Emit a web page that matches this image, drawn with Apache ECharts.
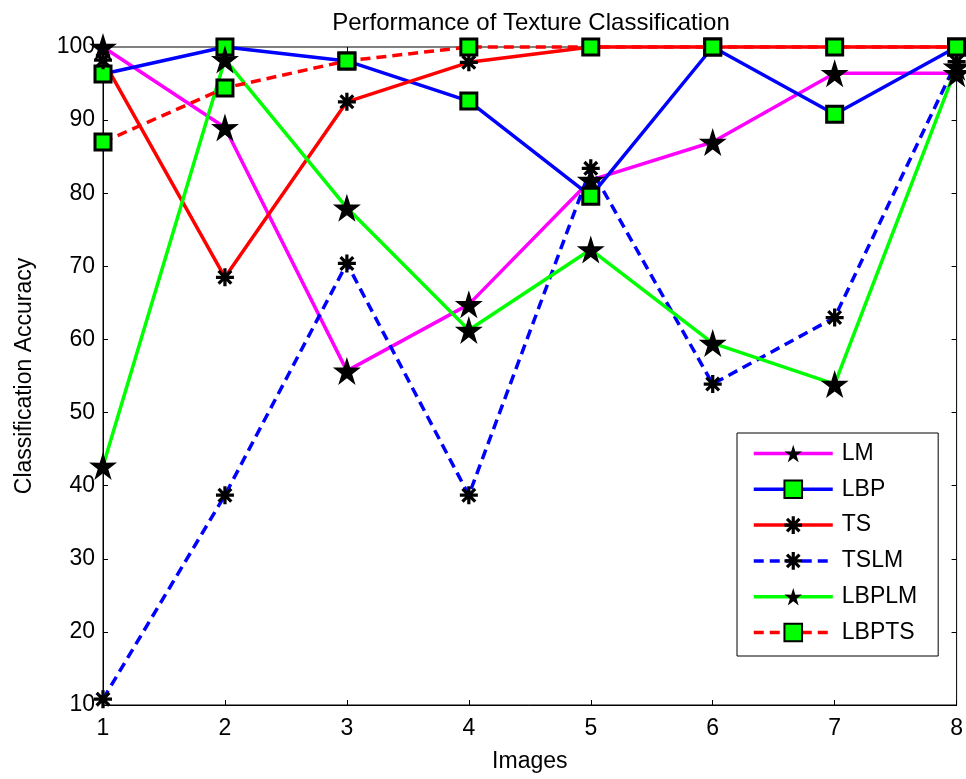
<!DOCTYPE html>
<html>
<head>
<meta charset="utf-8">
<script src="https://cdn.jsdelivr.net/npm/echarts@6/dist/echarts.min.js"></script>
<style>html,body{margin:0;padding:0;background:#fff}#c{width:966px;height:779px}</style>
</head>
<body>
<div id="c"></div>
<script>
var categories = [1, 2, 3, 4, 5, 6, 7, 8];
var LM    = [100, 89, 55.7, 64.8, 81.8, 87, 96.4, 96.4];
var LBP   = [96.3, 100, 98.1, 92.6, 79.6, 100, 90.8, 100];
var TS    = [98.2, 68.5, 92.5, 97.9, 100, 100, 100, 100];
var TSLM  = [10.8, 38.7, 70.4, 38.7, 83.4, 53.9, 63, 98];
var LBPLM = [42.7, 98.3, 78, 61.3, 72.3, 59.5, 53.9, 97.3];
var LBPTS = [87, 94.4, 98.1, 100, 100, 100, 100, 100];
var yTicks = [10, 20, 30, 40, 50, 60, 70, 80, 90, 100];

// marker shapes
function starPath() {
  var p = [];
  for (var i = 0; i < 10; i++) {
    var a = (-90 + 36 * i) * Math.PI / 180;
    var r = (i % 2 === 0) ? 50 : 19;
    p.push((50 + r * Math.cos(a)).toFixed(2) + ' ' + (50 + r * Math.sin(a)).toFixed(2));
  }
  return 'path://M' + p.join(' L') + ' Z';
}
function asteriskPath() {
  var s = '';
  var w = 9;
  for (var k = 0; k < 4; k++) {
    var a = k * Math.PI / 4;
    var c = Math.cos(a), sn = Math.sin(a);
    var pts = [[-50, -w], [50, -w], [50, w], [-50, w]].map(function (q) {
      return (50 + q[0] * c - q[1] * sn).toFixed(2) + ' ' + (50 + q[0] * sn + q[1] * c).toFixed(2);
    });
    s += 'M' + pts.join(' L') + ' Z ';
  }
  return 'path://' + s;
}
var STAR = starPath(), AST = asteriskPath();
var FONT = 'Arial, "Liberation Sans", sans-serif';
var FS = 23;

function pairs(arr) { return categories.map(function (c, i) { return [c, arr[i]]; }); }

function mk(name, arr, color, dashed, kind) {
  var s = {
    name: name, type: 'line', data: pairs(arr), clip: false,
    lineStyle: { color: color, width: 3.5, type: dashed ? [10, 6] : 'solid' },
    color: color
  };
  if (kind === 'star') {
    s.symbol = STAR; s.symbolSize = 28;
    s.itemStyle = { color: '#000', borderColor: '#000', borderWidth: 0 };
  } else if (kind === 'square') {
    s.symbol = 'rect'; s.symbolSize = 16;
    s.itemStyle = { color: '#00ff00', borderColor: '#000', borderWidth: 3 };
  } else {
    s.symbol = AST; s.symbolSize = 18;
    s.itemStyle = { color: '#000', borderColor: '#000', borderWidth: 0 };
  }
  s.emphasis = { disabled: true };
  return s;
}

var chart = echarts.init(document.getElementById('c'), null, { renderer: 'canvas' });
chart.setOption({
  animation: false,
  backgroundColor: '#fff',
  textStyle: { fontFamily: FONT },
  title: {
    text: 'Performance of Texture Classification',
    left: 526, top: 6, textAlign: 'center',
    textStyle: { fontFamily: FONT, fontSize: 24, fontWeight: 'normal', color: '#000' }
  },
  grid: { left: 103, right: 9, top: 47, bottom: 74, show: true, borderColor: '#000', borderWidth: 1, backgroundColor: 'transparent' },
  legend: {
    orient: 'vertical', left: 737, top: 433,
    padding: [9, 21, 12, 15],
    itemWidth: 79, itemHeight: 22, itemGap: 12.8,
    borderColor: '#000', borderWidth: 1, backgroundColor: '#fff',
    lineStyle: { width: 3.5 },
    textStyle: { fontFamily: FONT, fontSize: FS, color: '#000', padding: [0, 0, 0, 4] },
    data: ['LM', 'LBP', 'TS', 'TSLM', 'LBPLM', 'LBPTS']
  },
  xAxis: [{
    type: 'value', min: 1, max: 8, interval: 1, position: 'bottom',
    name: 'Images', nameLocation: 'middle', nameGap: 45,
    nameTextStyle: { fontFamily: FONT, fontSize: FS, color: '#000' },
    axisLine: { show: true, lineStyle: { color: '#000', width: 1 } },
    axisTick: { show: true, inside: true, length: 5, lineStyle: { color: '#000' } },
    axisLabel: { fontFamily: FONT, fontSize: FS, color: '#000', margin: 12 },
    splitLine: { show: false }
  }, {
    type: 'value', min: 1, max: 8, interval: 1, position: 'top',
    axisLine: { show: false },
    axisTick: { show: true, inside: true, length: 5, lineStyle: { color: '#000' } },
    axisLabel: { show: false }, splitLine: { show: false }
  }],
  yAxis: [{
    type: 'value', min: 10, max: 100, interval: 10, position: 'left',
    name: 'Classification Accuracy', nameLocation: 'middle', nameGap: 67,
    nameTextStyle: { fontFamily: FONT, fontSize: FS, color: '#000' },
    axisLine: { show: true, lineStyle: { color: '#000', width: 1 } },
    axisTick: { show: true, inside: true, length: 5, lineStyle: { color: '#000' } },
    axisLabel: { fontFamily: FONT, fontSize: FS, color: '#000', margin: 8,
      formatter: function (v) { return yTicks.indexOf(v) >= 0 ? String(v) : ''; } },
    splitLine: { show: false }
  }, {
    type: 'value', min: 10, max: 100, interval: 10, position: 'right',
    axisLine: { show: false },
    axisTick: { show: true, inside: true, length: 5, lineStyle: { color: '#000' } },
    axisLabel: { show: false }, splitLine: { show: false }
  }],
  series: [
    mk('LM', LM, '#ff00ff', false, 'star'),
    mk('LBP', LBP, '#0000ff', false, 'square'),
    mk('TS', TS, '#ff0000', false, 'ast'),
    mk('TSLM', TSLM, '#0000ff', true, 'ast'),
    mk('LBPLM', LBPLM, '#00ff00', false, 'star'),
    mk('LBPTS', LBPTS, '#ff0000', true, 'square')
  ]
});
</script>
</body>
</html>
